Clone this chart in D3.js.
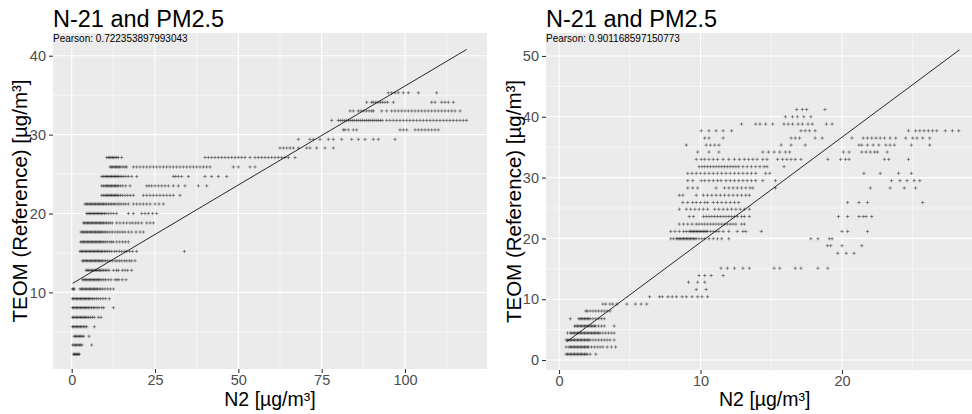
<!DOCTYPE html>
<html>
<head>
<meta charset="utf-8">
<script src="https://cdn.jsdelivr.net/npm/d3@7"></script>
<style>
    body { margin: 0; background: #fff; }
    svg { display: block; font-family: "Liberation Sans", Arial, sans-serif; }
</style>
</head>
<body>
<div id="vis"></div>
<script>
// ---- data ----
var titleText = 'N-21 and PM2.5';
var xTitle = 'N2 [\u00b5g/m\u00b3]';
var yTitle = 'TEOM (Reference) [\u00b5g/m\u00b3]';

// left panel
var leftPearson = 'Pearson: 0.722353897993043';
var leftXTicks = [0, 25, 50, 75, 100];
var leftYTicks = [10, 20, 30, 40];
var leftFitX = [0.3, 118.5];
var leftFitY = [11.15, 40.8];
var leftLevels = [2.16, 3.33, 4.44, 5.65, 6.84, 8.06, 9.2, 10.43, 11.6, 12.8, 14.0, 15.2, 16.4, 17.65, 18.8,
    20.0, 21.2, 22.3, 23.5, 24.7, 25.9, 27.1, 28.3, 29.4, 30.6, 31.8, 33.0, 34.1, 35.3];
var leftBandX = [
    [0.5, 0.8, 1.1, 1.4, 1.7, 2.0, 2.3],
    [0.3, 0.7, 1.1, 1.5, 1.9, 2.3, 2.7, 3.1, 6.0],
    [0.7, 1.1, 1.5, 1.9, 2.3, 2.7, 3.1, 3.6, 5.2],
    [0.2, 0.6, 1.0, 1.4, 1.8, 2.2, 2.6, 3.0, 3.5, 4.0, 4.5, 6.8],
    [0.2, 0.6, 1.0, 1.4, 1.8, 2.2, 2.6, 3.0, 3.4, 3.8, 4.2, 4.6, 5.1, 5.6, 6.2, 6.8, 8.0, 8.8],
    [0.2, 0.6, 1.0, 1.4, 1.8, 2.2, 2.6, 3.0, 3.4, 3.8, 4.2, 4.6, 5.0, 5.5, 6.0, 6.5, 7.0, 7.6, 8.2, 9.0, 9.6, 12.5],
    [0.2, 0.6, 1.0, 1.4, 1.8, 2.2, 2.6, 3.0, 3.4, 3.8, 4.2, 4.6, 5.0, 5.4, 5.8, 6.3, 6.8, 7.4, 8.0, 8.7, 9.4, 10.2, 11.3],
    [0.2, 0.5, 0.8, 2.5, 2.9, 3.3, 3.7, 4.1, 4.5, 4.9, 5.3, 5.7, 6.1, 6.5, 6.9, 7.3, 7.7, 8.2, 8.7, 9.3, 10.0, 10.8, 11.6, 12.5],
    [3.3, 3.7, 4.1, 4.5, 4.9, 5.3, 5.7, 6.1, 6.5, 6.9, 7.3, 7.7, 8.1, 8.5, 9.0, 9.6, 10.2, 11.0, 11.8, 13.0, 13.6, 14.2, 15.2, 16.3],
    [4.3, 4.7, 5.1, 5.5, 5.9, 6.3, 6.7, 7.1, 7.5, 7.9, 8.3, 8.7, 9.1, 9.6, 10.1, 10.6, 11.2, 12.5, 13.4, 14.0, 15.2, 16.0, 16.8, 18.0],
    [3.2, 3.6, 4.0, 4.4, 4.8, 5.2, 5.6, 6.0, 6.4, 6.8, 7.2, 7.6, 8.0, 8.4, 8.8, 9.2, 9.7, 10.2, 10.8, 11.5, 12.2, 13.0, 13.6, 14.3, 15.0, 15.8, 16.5, 17.3, 18.0, 19.0],
    [2.5, 2.9, 3.3, 3.7, 4.1, 4.5, 4.9, 5.3, 5.7, 6.1, 6.5, 6.9, 7.3, 7.7, 8.1, 8.5, 8.9, 9.3, 9.8, 10.3, 10.8, 11.4, 12.0, 12.8, 13.5, 14.3, 15.0, 15.8, 16.5, 17.4, 18.3, 19.5, 33.8],
    [2.7, 3.1, 3.5, 3.9, 4.3, 4.7, 5.1, 5.5, 5.9, 6.3, 6.7, 7.1, 7.5, 7.9, 8.3, 8.7, 9.1, 9.6, 10.1, 10.7, 11.4, 12.0, 12.5, 13.5, 14.4, 15.3, 16.1, 17.0],
    [2.8, 3.2, 3.6, 4.0, 4.4, 4.8, 5.2, 5.6, 6.0, 6.4, 6.8, 7.2, 7.6, 8.0, 8.4, 8.8, 9.2, 9.7, 10.2, 10.8, 11.5, 12.2, 13.0, 13.8, 14.5, 15.3, 16.0, 17.0, 18.0, 19.3, 20.5, 21.5],
    [3.5, 3.9, 4.3, 4.7, 5.1, 5.5, 5.9, 6.3, 6.7, 7.1, 7.5, 7.9, 8.3, 8.7, 9.1, 9.5, 10.0, 10.5, 11.0, 11.6, 12.2, 13.5, 14.5, 15.5, 16.5, 17.5, 18.3, 19.2, 20.0, 21.0, 22.5, 23.5, 24.5],
    [4.5, 4.9, 5.3, 5.7, 6.1, 6.5, 6.9, 7.3, 7.7, 8.1, 8.5, 8.9, 9.3, 9.8, 10.3, 11.0, 11.8, 12.6, 13.5, 17.0, 18.5, 21.0, 22.0, 23.0, 24.3, 25.5],
    [4.0, 4.4, 4.8, 5.2, 5.6, 6.0, 6.4, 6.8, 7.2, 7.6, 8.0, 8.4, 8.8, 9.2, 9.6, 10.0, 10.5, 11.0, 11.5, 12.0, 12.5, 13.0, 13.6, 14.2, 14.8, 15.5, 16.2, 17.0, 18.5, 19.5, 20.5, 21.5, 22.5, 23.5, 25.0, 26.2, 27.5],
    [9.0, 9.5, 10.0, 10.4, 10.8, 11.2, 11.6, 12.0, 12.4, 12.8, 13.2, 13.6, 14.0, 14.6, 15.2, 16.0, 16.8, 17.6, 18.5, 21.5, 22.5, 23.5, 24.5, 25.5, 26.5, 27.5, 28.5, 29.5, 30.5, 32.5],
    [9.0, 9.5, 10.0, 10.4, 10.8, 11.2, 11.6, 12.0, 12.4, 12.8, 13.2, 13.6, 14.0, 14.6, 15.3, 16.2, 17.5, 22.5, 23.2, 24.0, 25.0, 26.0, 27.0, 28.0, 29.0, 30.5, 32.0, 34.0, 38.0, 40.5],
    [9.0, 9.5, 10.0, 10.4, 10.8, 11.2, 11.6, 12.0, 12.4, 12.8, 13.2, 13.6, 14.0, 14.5, 15.0, 15.6, 16.3, 17.0, 18.0, 19.5, 30.5, 31.2, 32.0, 33.0, 35.0, 40.0, 42.0, 44.0, 46.5],
    [11.5, 11.9, 12.3, 12.7, 13.1, 13.5, 13.9, 14.3, 14.8, 15.4, 16.0, 16.5, 18.5, 19.5, 20.5, 21.5, 22.5, 23.5, 24.5, 25.5, 26.5, 27.5, 28.5, 29.5, 30.5, 31.5, 32.5, 33.5, 34.5, 35.5, 36.5, 37.5, 38.5, 39.5, 40.5, 41.5, 48.5, 50.0, 53.5, 55.0],
    [10.5, 11.0, 11.4, 11.8, 12.2, 12.6, 13.0, 13.5, 14.0, 15.0, 40.0, 41.0, 42.0, 43.0, 44.0, 45.0, 46.0, 47.0, 48.0, 49.0, 50.0, 51.0, 52.0, 53.5, 55.0, 56.0, 57.0, 58.0, 59.0, 60.0, 61.0, 62.0, 63.0, 64.0, 65.0, 67.0],
    [62.5, 63.5, 64.5, 65.5, 66.5, 68.0, 70.5, 71.5, 73.5, 76.0, 78.5],
    [68.0, 71.5, 72.5, 74.5, 77.0, 78.5, 81.0, 84.0, 86.0, 88.0, 90.5, 92.0, 97.0],
    [81.5, 82.0, 83.0, 84.5, 85.5, 98.5, 99.5, 100.5, 103.0, 104.0, 105.0, 106.0, 107.0, 108.0, 109.0, 110.0],
    [78.0, 80.0, 80.6, 81.2, 81.8, 82.4, 83.0, 83.6, 84.2, 84.8, 85.4, 86.0, 86.6, 87.2, 87.8, 88.4, 89.0, 89.6, 90.2, 90.8, 91.4, 92.0, 92.6, 93.2, 94.5, 95.5, 96.5, 97.5, 98.5, 99.5, 100.5, 101.5, 102.5, 103.5, 104.5, 105.5, 106.5, 107.5, 108.5, 109.5, 110.5, 111.5, 112.5, 113.5, 114.5, 115.5, 116.5, 117.5, 118.5],
    [83.5, 84.5, 86.0, 86.8, 87.6, 88.4, 89.2, 90.0, 90.5, 93.0, 94.5, 96.0, 97.0, 98.0, 99.0, 100.0, 101.0, 102.0, 103.0, 104.0, 105.0, 106.0, 107.0, 108.0, 109.0, 110.0, 111.0, 112.0, 113.0, 114.0, 115.0, 116.5],
    [88.5, 90.0, 90.5, 91.2, 91.9, 92.6, 93.3, 94.0, 94.8, 96.5, 108.0, 109.0, 111.0, 112.0, 113.0, 114.5],
    [95.0, 96.0, 97.0, 98.0, 99.5, 101.0, 104.0, 109.5]
];

// right panel
var rightPearson = 'Pearson: 0.901168597150773';
var rightXTicks = [0, 10, 20];
var rightYTicks = [0, 10, 20, 30, 40, 50];
var rightFitX = [0.54, 28.3];
var rightFitY = [3.0, 51.0];
var rightLevels = [0.96, 2.14, 3.29, 4.44, 5.59, 6.79, 8.06, 9.2, 10.4, 11.6, 12.8, 13.9, 15.1, 17.55, 18.8,
    19.95, 21.15, 22.35, 23.6, 24.8, 25.9, 27.1, 28.3, 29.5, 30.7, 31.8, 33.0, 34.2, 35.35, 36.5, 37.7, 38.8, 40.0, 41.2];
var rightBandX = [
    [0.5, 0.6, 0.7, 0.8, 0.9, 1.0, 1.1, 1.2, 1.3, 1.4, 1.5, 1.6, 1.7, 1.8, 1.9, 2.0, 2.2, 2.6],
    [0.5, 0.7, 0.8, 0.9, 1.0, 1.1, 1.2, 1.3, 1.4, 1.5, 1.6, 1.7, 1.8, 1.9, 2.0, 2.1, 2.3, 2.5, 2.7, 2.9, 3.1, 3.4, 3.7, 4.0],
    [0.5, 0.6, 0.7, 0.8, 0.9, 1.0, 1.1, 1.2, 1.3, 1.4, 1.5, 1.6, 1.7, 1.8, 1.9, 2.0, 2.1, 2.2, 2.4, 2.6, 2.8, 3.0, 3.2, 3.4, 3.6, 3.9],
    [0.6, 0.8, 0.9, 1.0, 1.1, 1.2, 1.3, 1.4, 1.5, 1.6, 1.7, 1.8, 1.9, 2.0, 2.1, 2.2, 2.3, 2.4, 2.5, 2.6, 2.7, 2.8, 2.9, 3.1, 3.3, 3.5, 3.7, 3.9],
    [1.1, 1.2, 1.3, 1.4, 1.5, 1.6, 1.7, 1.8, 1.9, 2.0, 2.1, 2.2, 2.3, 2.4, 2.5, 2.6, 2.8, 3.0, 3.2, 3.9],
    [0.8, 1.4, 1.5, 1.6, 1.7, 1.8, 1.9, 2.0, 2.1, 2.2, 2.4, 2.6, 2.8, 3.0, 3.2],
    [1.9, 2.0, 2.2, 2.4, 2.6, 2.8, 3.0, 3.2, 3.4, 3.6],
    [3.1, 3.3, 3.6, 3.8, 4.1, 4.8, 5.4, 5.8, 6.2],
    [6.4, 7.1, 7.3, 7.7, 8.0, 8.3, 8.7, 9.0, 9.4, 9.8, 10.1, 10.5],
    [9.7, 10.4],
    [9.15, 9.8, 10.3],
    [9.9, 10.3, 10.75, 11.6],
    [11.45, 11.9, 12.4, 13.0, 13.45, 15.2, 15.6, 16.7, 17.1, 18.3, 19.0],
    [19.7, 20.3, 20.85],
    [18.97, 19.2, 20.0, 21.4],
    [7.9, 8.1, 8.3, 8.4, 8.5, 8.6, 8.7, 8.8, 8.9, 9.0, 9.1, 9.2, 9.3, 9.4, 9.5, 9.6, 9.7, 9.9, 10.1, 10.3, 10.6, 10.9, 11.2, 11.5, 12.0, 17.8, 18.3, 19.1, 19.3],
    [7.9, 8.2, 8.5, 8.8, 9.0, 9.2, 9.3, 9.4, 9.5, 9.6, 9.7, 9.8, 9.9, 10.0, 10.1, 10.2, 10.3, 10.4, 10.5, 10.7, 10.9, 11.1, 11.3, 11.6, 12.0, 12.6, 13.0, 13.2, 14.3, 20.0, 20.4, 21.8],
    [8.5, 8.8, 9.1, 9.4, 9.7, 9.9, 10.1, 10.3, 10.5, 10.7, 10.9, 11.1, 11.3, 11.5, 11.7, 11.9, 12.1, 12.3, 12.5, 12.9, 13.1],
    [9.2, 9.5, 10.2, 10.4, 10.6, 10.8, 11.0, 11.2, 11.4, 11.6, 11.8, 12.0, 12.2, 12.4, 12.6, 12.9, 13.1, 13.45, 19.75, 20.4, 21.2, 21.5, 21.7, 22.1],
    [8.5, 9.0, 9.3, 9.6, 9.9, 10.2, 10.5, 11.0, 11.3, 11.6, 11.9, 12.2, 12.5, 12.8, 13.1, 13.45],
    [8.75, 9.1, 9.45, 9.7, 10.0, 10.3, 10.5, 10.9, 11.2, 11.5, 11.8, 12.1, 12.4, 12.7, 20.4, 21.2, 21.8, 25.7],
    [8.5, 8.75, 9.7, 10.2, 10.5, 10.8, 11.1, 11.4, 11.7, 12.0, 12.3, 12.6, 12.9, 13.2, 13.45],
    [9.1, 9.45, 9.8, 11.1, 11.7, 12.0, 12.3, 12.6, 12.9, 13.2, 13.5, 13.7, 15.3, 22.0, 23.4, 24.4, 25.2],
    [9.1, 9.45, 10.05, 10.3, 10.6, 10.9, 11.2, 11.45, 11.8, 12.1, 12.4, 12.7, 13.0, 13.3, 13.6, 13.9, 14.4, 15.3, 23.5, 24.1, 24.6, 25.1, 25.5],
    [9.1, 9.4, 9.7, 10.0, 10.3, 10.6, 10.9, 11.2, 11.5, 11.8, 12.1, 12.4, 12.7, 13.0, 13.3, 13.6, 13.9, 14.6, 14.9, 21.55, 22.7, 24.0, 24.9],
    [9.9, 10.1, 10.3, 10.5, 10.7, 10.9, 11.1, 11.3, 11.5, 11.7, 11.9, 12.1, 12.3, 12.5, 12.7, 13.0, 13.3, 13.6, 13.9, 14.2, 14.5, 14.7, 15.9],
    [9.7, 10.05, 10.3, 10.6, 10.9, 11.2, 11.6, 12.0, 12.4, 12.75, 13.1, 13.4, 13.7, 14.0, 14.4, 14.7, 15.45, 15.8, 16.1, 16.4, 16.7, 17.1, 19.0, 19.9, 20.25, 20.5, 23.0, 23.3, 24.7],
    [9.8, 10.6, 11.3, 14.4, 14.8, 15.2, 15.6, 16.0, 16.3, 20.1, 20.5, 21.4, 21.7, 22.0, 22.3, 22.5, 23.2],
    [9.0, 10.4, 10.7, 11.0, 11.3, 15.7, 16.4, 17.4, 21.2, 21.4, 21.8, 22.2, 22.6, 23.1, 23.4, 23.7, 24.9, 26.2],
    [10.3, 10.6, 11.6, 16.4, 16.7, 17.0, 18.1, 18.6, 20.7, 21.5, 21.8, 22.1, 22.4, 22.7, 23.0, 23.4, 23.8, 24.5, 25.0, 25.3, 25.7, 26.2],
    [10.05, 10.6, 11.1, 11.6, 12.2, 17.1, 17.4, 17.7, 18.1, 24.7, 25.2, 25.5, 25.8, 26.1, 26.4, 26.7, 27.3, 27.8, 28.25],
    [12.9, 13.9, 14.2, 14.6, 15.1, 15.9, 16.2, 16.5, 16.9, 17.2, 17.6, 17.9, 18.9, 19.3],
    [16.0, 16.5, 16.85, 17.3, 17.8],
    [16.8, 17.2, 17.5, 18.8]
];

// ---- drawing ----
var width = 972;
var height = 414;

var svg = d3.select('#vis')
    .append('svg')
        .attr('width', width)
        .attr('height', height);

function bandsToPoints(levels, bands)
{
    var pts = [];
    for(var i = 0; i < levels.length; ++i)
    {
        bands[i].forEach(function(x) { pts.push({ x: x, y: levels[i] }); });
    }
    return pts;
}

function midpoints(ticks, domain)
{
    var step = ticks[1] - ticks[0];
    var out = [];
    for(var v = ticks[0] - step / 2; v <= domain[1]; v += step)
    {
        if(v >= domain[0]) out.push(v);
    }
    return out;
}

function drawPanel(p)
{
    var x = d3.scaleLinear().domain(p.xDomain).range([p.left, p.right]);
    var y = d3.scaleLinear().domain(p.yDomain).range([p.bottom, p.top]);
    var g = svg.append('g');

    var clipId = 'clip' + p.left;
    g.append('clipPath').attr('id', clipId)
        .append('rect')
            .attr('x', p.left).attr('y', p.top)
            .attr('width', p.right - p.left).attr('height', p.bottom - p.top);

    g.append('rect')
        .attr('x', p.left).attr('y', p.top)
        .attr('width', p.right - p.left).attr('height', p.bottom - p.top)
        .attr('fill', '#ebebeb');

    // grid: minor then major
    var grid = g.append('g').attr('clip-path', 'url(#' + clipId + ')');
    grid.selectAll('.xminor').data(midpoints(p.xTicks, p.xDomain)).enter()
        .append('line')
            .attr('x1', x).attr('x2', x).attr('y1', p.top).attr('y2', p.bottom)
            .attr('stroke', '#fff').attr('stroke-width', 0.55);
    grid.selectAll('.yminor').data(midpoints(p.yTicks, p.yDomain)).enter()
        .append('line')
            .attr('y1', y).attr('y2', y).attr('x1', p.left).attr('x2', p.right)
            .attr('stroke', '#fff').attr('stroke-width', 0.55);
    grid.selectAll('.xmajor').data(p.xTicks).enter()
        .append('line')
            .attr('x1', x).attr('x2', x).attr('y1', p.top).attr('y2', p.bottom)
            .attr('stroke', '#fff').attr('stroke-width', 1.1);
    grid.selectAll('.ymajor').data(p.yTicks).enter()
        .append('line')
            .attr('y1', y).attr('y2', y).attr('x1', p.left).attr('x2', p.right)
            .attr('stroke', '#fff').attr('stroke-width', 1.1);

    // points, drawn as "+" marks
    var pts = bandsToPoints(p.levels, p.bands);
    grid.selectAll('.pt').data(pts).enter()
        .append('path')
            .attr('class', 'pt')
            .attr('d', 'M-1.7,0H1.7M0,-1.7V1.7')
            .attr('transform', function(d) { return 'translate(' + x(d.x).toFixed(2) + ',' + y(d.y).toFixed(2) + ')'; })
            .attr('stroke', '#000')
            .attr('stroke-opacity', 0.5)
            .attr('stroke-width', 0.8)
            .attr('fill', 'none');

    // fitted line
    var fit = p.fitX.map(function(v, i) { return [v, p.fitY[i]]; });
    grid.append('path')
        .attr('d', d3.line().x(function(d) { return x(d[0]); }).y(function(d) { return y(d[1]); })(fit))
        .attr('stroke', '#111')
        .attr('stroke-width', 0.9)
        .attr('fill', 'none');

    // axes
    var xAxis = g.append('g')
        .attr('transform', 'translate(0,' + p.bottom + ')')
        .call(d3.axisBottom(x).tickValues(p.xTicks).tickSize(4).tickPadding(2));
    var yAxis = g.append('g')
        .attr('transform', 'translate(' + p.left + ',0)')
        .call(d3.axisLeft(y).tickValues(p.yTicks).tickSize(4).tickPadding(3));
    [xAxis, yAxis].forEach(function(a)
    {
        a.select('.domain').remove();
        a.selectAll('line').attr('stroke', '#333').attr('stroke-width', 1.1);
        a.selectAll('text')
            .attr('fill', '#4d4d4d')
            .style('font-size', '14.5px')
            .style('font-family', '"Liberation Sans", Arial, sans-serif');
    });

    // texts
    g.append('text')
        .attr('x', p.left).attr('y', 26.5)
        .style('font-size', '23.5px')
        .attr('fill', '#000')
        .text(titleText);
    g.append('text')
        .attr('x', p.left).attr('y', 42.3)
        .style('font-size', '10px')
        .attr('fill', '#000')
        .text(p.pearson);
    g.append('text')
        .attr('x', (p.left + p.right) / 2).attr('y', 406)
        .attr('text-anchor', 'middle')
        .style('font-size', '19.5px')
        .attr('fill', '#000')
        .text(xTitle);
    g.append('text')
        .attr('transform', 'translate(' + p.yTitleX + ',' + ((p.top + p.bottom) / 2) + ') rotate(-90)')
        .attr('text-anchor', 'middle')
        .style('font-size', '20.5px')
        .attr('fill', '#000')
        .text(yTitle);
}

drawPanel({
    left: 53, right: 487, top: 33, bottom: 369,
    xDomain: [-5.61, 124.6], yDomain: [0.29, 42.88],
    xTicks: leftXTicks, yTicks: leftYTicks,
    levels: leftLevels, bands: leftBandX,
    fitX: leftFitX, fitY: leftFitY,
    pearson: leftPearson, yTitleX: 27
});

drawPanel({
    left: 546, right: 983.5, top: 33, bottom: 370,
    xDomain: [-0.92, 30.0], yDomain: [-1.64, 53.78],
    xTicks: rightXTicks, yTicks: rightYTicks,
    levels: rightLevels, bands: rightBandX,
    fitX: rightFitX, fitY: rightFitY,
    pearson: rightPearson, yTitleX: 521
});
</script>
</body>
</html>
